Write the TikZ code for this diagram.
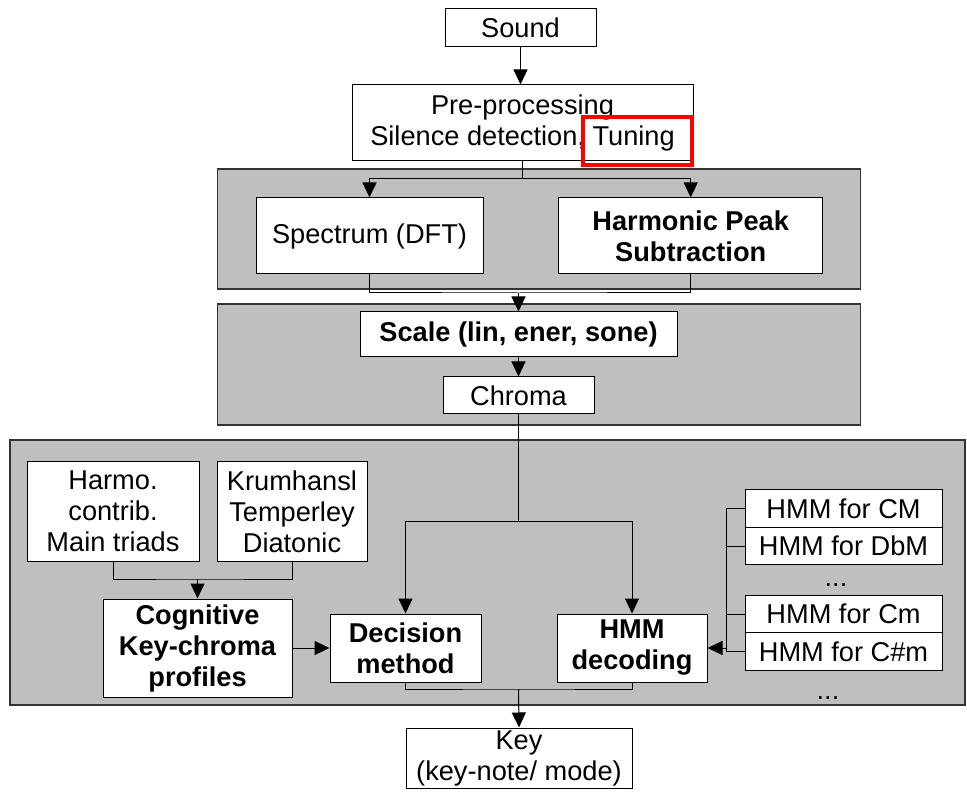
\documentclass[tikz,border=0pt]{standalone}
\usepackage{fontspec}
\setmainfont{Liberation Sans}
\usepackage{tikz}
\usetikzlibrary{arrows.meta,positioning,calc}

\begin{document}
\begin{tikzpicture}[x=0.5pt,y=-0.5pt,
  >={Triangle[width=7pt,length=7.5pt]},
  font=\fontsize{13.6}{15.5}\selectfont,
  blk/.style={draw, fill=white, align=center, inner sep=0pt, line width=0.5pt},
  bld/.style={blk, font=\fontsize{13.6}{15.5}\selectfont\bfseries},
  panel/.style={draw=black!80, fill=black!25, line width=0.8pt},
  link/.style={line width=0.5pt},
  hmm/.style={blk, minimum width=98.5pt, minimum height=18.75pt}]
\useasboundingbox (0,0) rectangle (967,795);

% grey stages
\draw[panel] (217.5,169) rectangle (860.5,289);
\draw[panel] (217.5,304) rectangle (860.5,425);
\draw[panel] (10,440) rectangle (965,705);

% blocks
\node[blk, minimum width=75.5pt, minimum height=19pt] (snd) at (520.5,28) {Sound};
\node[blk, minimum width=170.5pt, minimum height=38pt] (pre) at (522.5,123) {Pre-processing\\Silence detection, Tuning};
\node[blk, minimum width=113.5pt, minimum height=38pt] (spec) at (369.5,236) {Spectrum (DFT)};
\node[bld, minimum width=132pt, minimum height=38pt] (harm) at (690.7,236) {Harmonic Peak\\Subtraction};
\node[bld, minimum width=158.5pt, minimum height=22.5pt] (scl) at (518.5,334.5) {Scale (lin, ener, sone)};
\node[blk, minimum width=75.5pt, minimum height=18.5pt] (chroma) at (518.5,395.5) {Chroma};
\node[blk, minimum width=86pt, minimum height=49.5pt] (harmo) at (113,511.5) {Harmo.\\contrib.\\Main triads};
\node[blk, minimum width=75pt, minimum height=49.5pt] (krum) at (292,511.5) {Krumhansl\\Temperley\\Diatonic};
\node[bld, minimum width=94.5pt, minimum height=49pt] (cog) at (197.5,648) {Cognitive\\Key-chroma\\profiles};
\node[bld, minimum width=75.5pt, minimum height=34pt] (dec) at (405.5,648) {Decision\\method};
\node[bld, minimum width=75pt, minimum height=34pt] (hdec) at (632,648) {HMM\\decoding};
\node[blk, minimum width=113pt, minimum height=30pt] (key) at (519,758) {Key\\(key-note/ mode)};

% key models
\node[hmm] (cm) at (843.5,508.5) {HMM for CM};
\node[hmm] (dbm) at (843.5,546) {HMM for DbM};
\node[anchor=base] (dots1) at (836,586) {...};
\node[hmm] (cmin) at (843.5,614) {HMM for Cm};
\node[hmm] (csm) at (843.5,651.5) {HMM for C\#m};
\node[anchor=base] (dots2) at (828,699) {...};

% tuning highlight
\draw[red, line width=2pt] (583,117) rectangle (692,165);

% junctions
\coordinate (j1) at (522.5,179);
\coordinate (j2) at (518.5,293);
\coordinate (j3) at (518.5,521);
\coordinate (j4) at (197.5,579);
\coordinate (j5) at (518.5,689);

\draw[link,->] (snd.south) -- (snd.south |- pre.north);
\draw[link] (pre.south) -- (j1);
\draw[link,->] (j1) -| (spec.north);
\draw[link,->] (j1) -| (harm.north);
\draw[link] (spec.south) |- (j2) -| (harm.south);
\draw[link,->] (j2) -- (scl.north);
\draw[link,->] (scl) -- (chroma);
\draw[link] (chroma.south) -- (j3);
\draw[link,->] (j3) -| (dec.north);
\draw[link,->] (j3) -| (hdec.north);
\draw[link] (harmo.south) |- (j4) -| (krum.south);
\draw[link,->] (j4) -- (cog.north);
\draw[link,->] (cog) -- (dec);
\draw[link] (dec.south) |- (j5) -| (hdec.south);
\draw[link,->] (j5) -- (key.north);

% bracket to the decoder
\draw[link] (cm.west) -- ++(-9pt,0) |- (csm.west);
\draw[link] (dbm.west) -- ++(-9pt,0);
\draw[link] (cmin.west) -- ++(-9pt,0);
\draw[link,->] ([xshift=-9pt]cm.west |- hdec.east) -- (hdec.east);
\end{tikzpicture}
\end{document}
